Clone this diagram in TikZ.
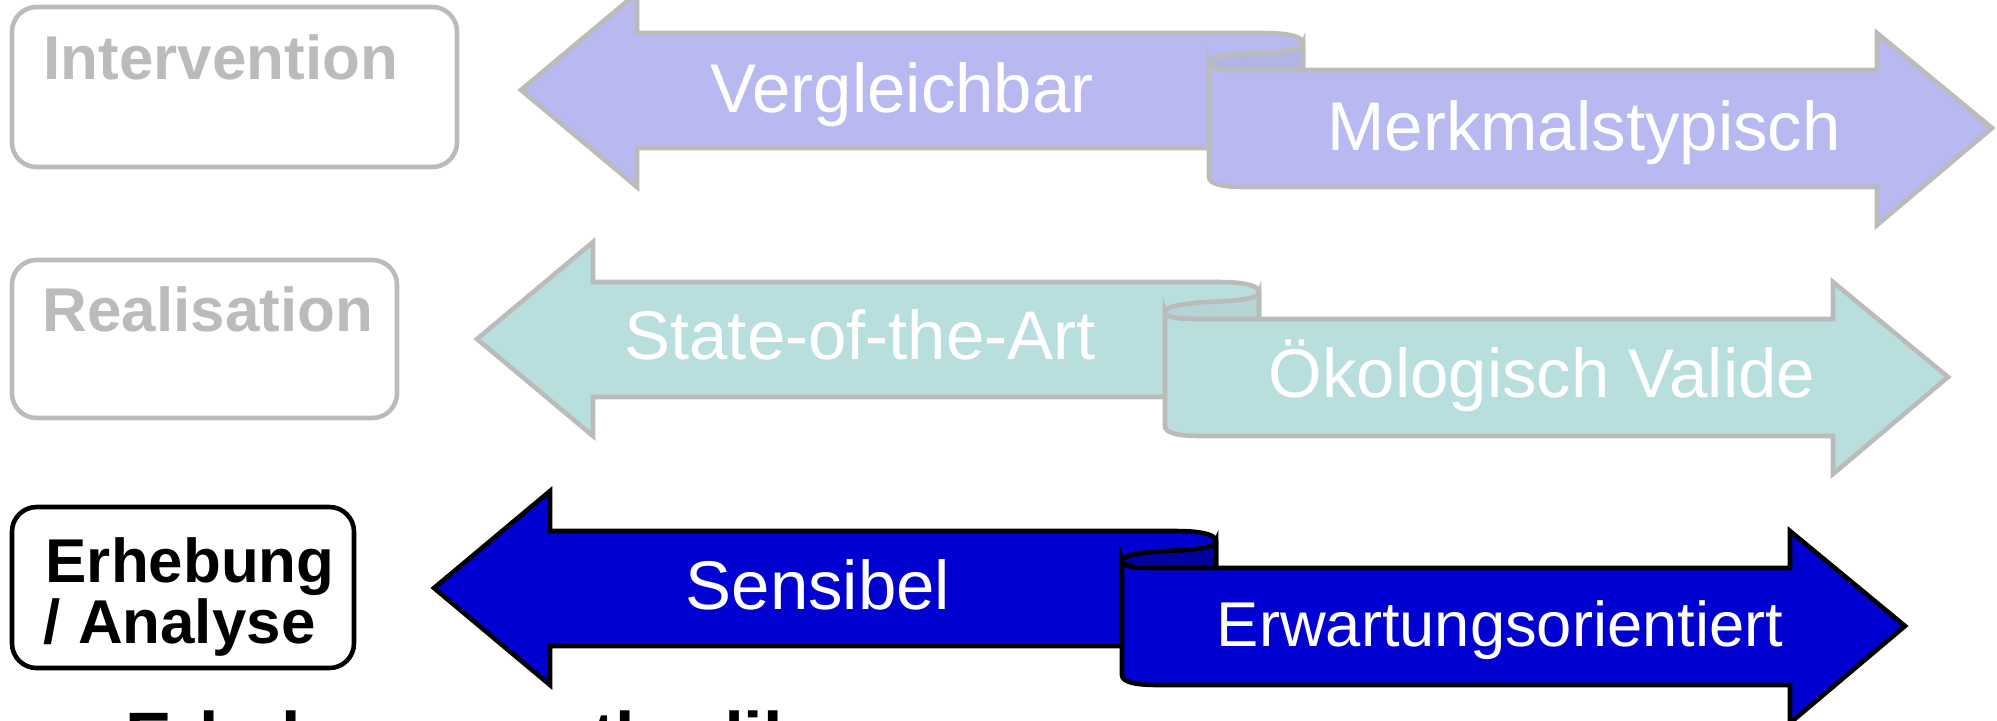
\documentclass[tikz,border=0pt]{standalone}
\usepackage{fontspec}
\setmainfont{Liberation Sans}
\definecolor{rowA}{RGB}{184,185,240}
\definecolor{rowAd}{RGB}{178,180,228}
\definecolor{rowB}{RGB}{184,222,222}
\definecolor{rowBd}{RGB}{180,212,214}
\definecolor{rowC}{RGB}{0,0,208}
\definecolor{rowCd}{RGB}{0,0,158}
\definecolor{softgray}{RGB}{187,187,187}
\tikzset{
  ribline/.style={line width=1.3pt, line join=miter},
  lbl/.style={anchor=base, text=white, inner sep=0pt, font=\fontsize{19.6pt}{23pt}\selectfont},
  boxtxt/.style={anchor=base west, inner sep=0pt, font=\bfseries\fontsize{17.6pt}{20pt}\selectfont},
  boxframe/.style={line width=1.3pt, rounded corners=7pt},
}
\newcommand\ribbonshape[5]{%
  \begin{scope}[shift={(#4,#5)}]
    % back piece with left arrow
    \filldraw[ribline, fill=#1, draw=#3] (521,90) -- (637,-7) -- (637,33) -- (1263,33)
      .. controls (1290,33) and (1303,37) .. (1303,43) -- (1303,148) -- (637,148) -- (637,187) -- cycle;
    % inner side of the roll
    \filldraw[ribline, fill=#2, draw=#3] (1303,43) .. controls (1303,50) and (1280,52) .. (1250,53)
      .. controls (1222,55) and (1209,58) .. (1209,63)
      .. controls (1209,68) and (1220,70) .. (1240,70) -- (1303,70) -- cycle;
    % front piece with right arrow
    \filldraw[ribline, fill=#1, draw=#3] (1209,63) -- (1209,177) .. controls (1209,184) and (1222,187) .. (1245,187)
      -- (1877,187) -- (1877,225) -- (1992,128) -- (1877,33) -- (1877,70) -- (1240,70)
      .. controls (1220,70) and (1209,68) .. (1209,63) -- cycle;
  \end{scope}}
\begin{document}
\begin{tikzpicture}[x=0.01cm,y=-0.01cm]
\useasboundingbox (0,0) rectangle (1997,720);
\begin{scope}
\clip (0,0) rectangle (1997,720);
% left boxes
\draw[boxframe, draw=softgray] (12,7) rectangle (457,167);
\node[boxtxt, text=softgray] (interv) at (43,79) {Intervention};
\draw[boxframe, draw=softgray] (12,260) rectangle (397,418);
\node[boxtxt, text=softgray] (realis) at (42,331) {Realisation};
\draw[boxframe, draw=black] (12,507) rectangle (354,668);
\node[boxtxt, text=black] (erheb) at (45,582) {Erhebung};
\node[boxtxt, text=black] (analy) at (43,643) {/ Analyse};
% ribbons
\ribbonshape{rowA}{rowAd}{softgray}{0}{0}
\node[lbl] (vergl) at (902,112) {Vergleichbar};
\node[lbl] (merkm) at (1584,150) {Merkmalstypisch};
\ribbonshape{rowB}{rowBd}{softgray}{-44}{249}
\node[lbl] (state) at (860,359) {State-of-the-Art};
\node[lbl] (oekol) at (1542,397) {Ökologisch Valide};
\ribbonshape{rowC}{rowCd}{black}{-87}{498}
\node[lbl] (sensi) at (818,609) {Sensibel};
\node[lbl, font=\fontsize{18pt}{21pt}\selectfont] (erwar) at (1500,646) {Erwartungsorientiert};
% bottom caption, cut by the picture edge
\node[anchor=base west, inner sep=0pt, font=\bfseries\fontsize{19.9pt}{23pt}\selectfont] (methd) at (125,761) {Erhebungsmethodik};
\end{scope}
\end{tikzpicture}
\end{document}
